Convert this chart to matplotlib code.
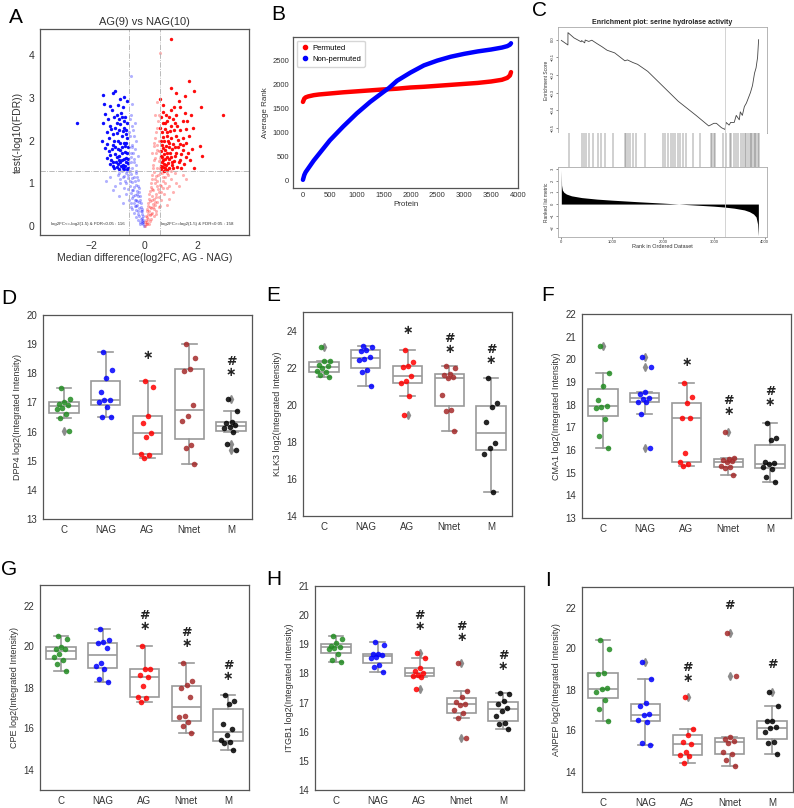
import matplotlib
matplotlib.use('Agg')
import matplotlib.pyplot as plt
from matplotlib.lines import Line2D
import numpy as np

plt.rcParams['font.family'] = ['Liberation Sans', 'DejaVu Sans']

W, H = 794, 808

# ---------------- data ----------------
# A: volcano plot, AG vs NAG  (x = median log2FC, y = -log10 FDR)
sig_down = [(-2.54, 2.41), (-1.55, 3.06), (-1.11, 3.16), (-1.17, 3.10), (-0.77, 3.02), (-0.92, 2.96),
            (-1.53, 2.85), (-1.30, 2.80), (-0.67, 2.92), (-1.05, 2.60), (-0.73, 2.55), (-1.55, 2.41),
            (-1.30, 2.35), (-1.11, 2.30), (-0.92, 2.38), (-1.43, 2.20), (-1.17, 2.15), (-0.86, 2.10),
            (-0.67, 2.05), (-1.43, 1.93), (-1.11, 1.85), (-0.92, 1.78), (-0.73, 1.74), (-1.30, 1.66),
            (-1.05, 1.62), (-0.86, 1.55), (-0.70, 1.60), (-1.17, 1.50), (-0.98, 1.45), (-0.80, 1.42),
            (-0.61, 1.48), (-1.05, 1.38), (-0.80, 1.35), (-0.66, 1.33), (-1.20, 1.40), (-0.95, 2.25),
            (-0.75, 2.45), (-0.88, 2.65), (-1.00, 2.00), (-0.70, 2.25), (-0.62, 1.85), (-1.35, 1.75),
            (-0.78, 1.95), (-0.90, 1.50), (-0.65, 2.40), (-1.25, 1.55), (-0.83, 1.72), (-0.72, 1.40),
            (-1.48, 2.62), (-1.22, 2.72), (-0.98, 2.82), (-0.82, 2.78), (-1.38, 2.50), (-1.15, 2.55),
            (-0.95, 2.50), (-0.78, 2.30), (-1.25, 2.28), (-1.02, 2.18), (-0.82, 2.22), (-0.68, 2.15),
            (-1.32, 2.05), (-1.15, 1.98), (-0.90, 1.95), (-0.74, 1.88), (-1.50, 1.82), (-1.22, 1.80),
            (-1.00, 1.80), (-0.85, 1.85), (-0.66, 1.70), (-1.40, 1.60), (-1.12, 1.68), (-0.95, 1.65),
            (-0.78, 1.58), (-0.63, 1.58), (-1.30, 1.45), (-1.08, 1.50), (-0.88, 1.40), (-0.70, 1.50),
            (-1.15, 1.35), (-0.95, 1.34), (-0.75, 1.33), (-0.62, 1.36), (-1.60, 2.00), (-1.05, 2.42),
            (-0.85, 2.55), (-1.20, 1.90), (-0.70, 1.95), (-0.96, 1.55)]
sig_up = [(1.01, 4.37), (1.70, 3.39), (1.00, 3.22), (1.89, 3.16), (1.22, 3.12), (1.55, 3.05), (0.60, 2.98),
          (1.30, 2.92), (2.15, 2.79), (1.35, 2.79), (1.00, 2.71), (2.97, 2.59), (0.72, 2.66), (1.79, 2.60),
          (1.10, 2.50), (1.45, 2.45), (0.78, 2.40), (1.03, 2.33), (1.35, 2.25), (1.60, 2.28), (2.10, 1.88),
          (2.17, 1.63), (1.89, 1.36), (0.72, 2.08), (0.90, 2.00), (1.10, 1.93), (1.28, 1.85), (1.47, 1.78),
          (1.66, 1.70), (0.78, 1.78), (0.97, 1.70), (1.16, 1.63), (1.35, 1.55), (0.72, 1.55), (0.90, 1.48),
          (1.05, 1.42), (1.25, 1.38), (0.65, 1.40), (0.80, 1.35), (1.50, 1.45), (1.75, 1.55), (0.68, 1.90),
          (0.85, 2.20), (1.20, 2.10), (1.45, 2.05), (0.95, 2.55), (1.60, 1.95), (0.62, 1.65), (1.30, 1.50),
          (0.75, 1.45), (1.05, 1.80), (1.85, 2.30), (0.88, 1.62), (1.15, 2.40),
          (0.63, 1.33), (0.70, 1.38), (0.83, 1.42), (0.95, 1.36), (1.10, 1.35), (0.66, 1.50), (0.78, 1.58),
          (0.95, 1.56), (1.12, 1.52), (1.40, 1.35), (0.64, 1.75), (0.75, 1.68), (0.85, 1.72), (1.00, 1.62),
          (1.20, 1.72), (1.38, 1.68), (0.70, 1.82), (0.82, 1.88), (0.95, 1.85), (1.15, 1.84), (1.35, 1.92),
          (0.62, 2.00), (0.76, 2.00), (0.88, 2.10), (1.02, 2.05), (1.28, 2.02), (0.66, 2.20), (0.80, 2.28),
          (0.98, 2.22), (1.12, 2.25), (0.70, 2.40), (0.88, 2.45), (1.25, 2.35), (0.65, 2.55), (0.82, 2.60),
          (1.20, 2.60), (0.70, 2.82), (1.12, 2.78), (1.55, 2.65), (1.70, 2.10), (1.58, 1.62), (1.80, 1.80),
          (0.68, 1.62), (0.60, 2.30), (0.92, 1.95), (1.05, 1.50), (0.73, 1.30), (0.88, 1.32), (1.45, 1.90),
          (1.62, 2.45)]
ns_down = [(-0.02, 0.02), (-0.05, 0.05), (-0.08, 0.08), (-0.10, 0.12), (-0.04, 0.15), (-0.12, 0.18),
           (-0.15, 0.10), (-0.07, 0.20), (-0.18, 0.25), (-0.10, 0.28), (-0.25, 0.30), (-0.14, 0.35),
           (-0.30, 0.38), (-0.20, 0.42), (-0.12, 0.45), (-0.35, 0.48), (-0.27, 0.50), (-0.40, 0.55),
           (-0.18, 0.58), (-0.30, 0.62), (-0.45, 0.66), (-0.22, 0.70), (-0.36, 0.74), (-0.50, 0.78),
           (-0.28, 0.82), (-0.42, 0.86), (-0.60, 0.88), (-0.20, 0.90), (-0.55, 0.94), (-0.33, 0.97),
           (-0.68, 1.00), (-0.45, 1.04), (-0.25, 1.08), (-0.60, 1.12), (-0.38, 1.15), (-0.75, 1.18),
           (-0.50, 1.22), (-0.30, 1.25), (-0.85, 1.28), (-0.65, 1.30), (-0.45, 1.35), (-0.30, 1.42),
           (-0.52, 1.50), (-0.40, 1.58), (-0.25, 1.65), (-0.50, 1.72), (-0.35, 1.80), (-0.45, 1.90),
           (-0.30, 2.00), (-0.55, 2.10), (-0.42, 2.25), (-0.50, 2.60), (-0.35, 2.40), (-0.45, 2.85),
           (-0.52, 3.50), (-1.45, 1.05), (-1.10, 0.95), (-0.95, 0.70), (-1.20, 0.85), (-0.80, 0.55),
           (-1.00, 1.20), (-0.90, 1.10), (-1.30, 1.15), (-0.16, 0.05), (-0.22, 0.16), (-0.33, 0.22),
           (-0.08, 0.35), (-0.40, 0.32), (-0.26, 0.60), (-0.52, 0.45), (-0.15, 0.70), (-0.40, 0.92),
           (-0.03, 0.10), (-0.06, 0.25), (-0.09, 0.40), (-0.12, 0.55), (-0.15, 0.62), (-0.20, 0.80),
           (-0.24, 0.95), (-0.28, 1.15), (-0.32, 1.30), (-0.38, 1.50), (-0.42, 1.70), (-0.48, 1.85),
           (-0.22, 0.35), (-0.30, 0.48), (-0.36, 0.62), (-0.42, 0.72), (-0.48, 0.85), (-0.55, 1.05),
           (-0.62, 1.20), (-0.70, 1.25), (-0.35, 1.05), (-0.48, 1.12), (-0.55, 1.30), (-0.60, 1.45),
           (-0.52, 1.62), (-0.58, 1.85), (-0.38, 2.10), (-0.48, 2.35), (-0.55, 2.50), (-0.58, 2.20),
           (-0.75, 0.90), (-0.68, 0.75), (-0.58, 0.62), (-0.50, 0.55), (-0.45, 0.40), (-0.90, 1.00),
           (-0.72, 1.05), (-0.80, 1.15), (-0.95, 1.25), (-0.26, 0.75)]
ns_up = [(0.02, 0.02), (0.05, 0.06), (0.09, 0.10), (0.12, 0.05), (0.06, 0.15), (0.15, 0.18), (0.20, 0.12),
         (0.10, 0.22), (0.22, 0.26), (0.13, 0.30), (0.30, 0.32), (0.18, 0.37), (0.36, 0.40), (0.25, 0.44),
         (0.15, 0.48), (0.42, 0.50), (0.32, 0.53), (0.50, 0.57), (0.22, 0.60), (0.38, 0.64), (0.55, 0.68),
         (0.28, 0.72), (0.45, 0.76), (0.62, 0.80), (0.34, 0.84), (0.52, 0.88), (0.72, 0.90), (0.25, 0.93),
         (0.60, 0.96), (0.40, 1.00), (0.80, 1.02), (0.50, 1.06), (0.30, 1.10), (0.70, 1.14), (0.45, 1.17),
         (0.90, 1.20), (0.58, 1.24), (0.36, 1.27), (1.00, 1.28), (0.75, 1.30), (0.50, 1.36), (0.35, 1.44),
         (0.55, 1.52), (0.42, 1.60), (0.30, 1.70), (0.50, 1.78), (0.38, 1.88), (0.55, 1.98), (0.45, 2.20),
         (0.52, 2.45), (0.40, 2.60), (0.48, 2.90), (0.59, 4.05), (1.20, 1.00), (1.45, 1.20), (1.10, 0.80),
         (0.95, 0.65), (1.30, 0.95), (0.85, 0.50), (1.60, 1.10), (1.15, 1.25), (0.18, 0.05), (0.26, 0.18),
         (0.38, 0.24), (0.10, 0.40), (0.46, 0.36), (0.30, 0.62), (0.60, 0.48), (0.18, 0.75), (0.48, 0.95),
         (0.03, 0.10), (0.07, 0.25), (0.10, 0.35), (0.14, 0.55), (0.18, 0.65), (0.22, 0.82), (0.26, 1.00),
         (0.30, 1.20), (0.34, 1.35), (0.38, 1.55), (0.45, 1.70), (0.50, 1.90), (0.25, 0.30), (0.32, 0.45),
         (0.40, 0.58), (0.46, 0.68), (0.55, 0.80), (0.62, 0.95), (0.70, 1.05), (0.80, 1.15), (0.40, 1.10),
         (0.52, 1.20), (0.60, 1.35), (0.58, 1.60), (0.55, 1.75), (0.42, 2.05), (0.50, 2.30), (0.56, 2.60),
         (0.36, 1.95), (0.85, 0.90), (0.75, 0.75), (0.65, 0.62), (0.55, 0.45), (0.45, 0.30), (1.00, 1.10),
         (0.88, 1.25), (0.95, 0.95), (0.68, 1.25), (0.30, 0.88), (0.20, 0.45)]

# B: average rank per protein
prot_idx = [0, 25, 50, 100, 200, 300, 500, 750, 1000, 1250, 1500, 1600, 1750, 2000, 2250,
            2500, 2750, 3000, 3250, 3500, 3700, 3800, 3850, 3870]
rank_permuted = [1640, 1710, 1735, 1755, 1780, 1795, 1815, 1840, 1860, 1880, 1900, 1905, 1915,
                 1940, 1955, 1975, 1995, 2015, 2035, 2065, 2100, 2140, 2190, 2260]
rank_nonperm = [20, 120, 180, 260, 420, 560, 840, 1130, 1400, 1640, 1850, 1930, 2080, 2250, 2400,
                2500, 2580, 2640, 2690, 2730, 2770, 2800, 2830, 2860]

# C: GSEA, serine hydrolase activity
es_rank = [0, 130, 131, 250, 390, 400, 460, 470, 540, 600, 700, 800, 900, 1050, 1250, 1300, 1410,
           1500, 1700, 2000, 2300, 2650, 2900, 3000, 3050, 3150, 3220, 3240, 3300, 3330, 3400, 3440,
           3500, 3520, 3560, 3600, 3640, 3680, 3720, 3760, 3800, 3830, 3860, 3880]
es_score = [-0.004, -0.03, 0.04, 0.01, -0.012, -0.005, -0.018, -0.002, -0.01, -0.003, -0.022, -0.04,
            -0.06, -0.075, -0.12, -0.115, -0.13, -0.14, -0.18, -0.265, -0.35, -0.43, -0.49, -0.475,
            -0.475, -0.50, -0.51, -0.47, -0.485, -0.47, -0.47, -0.43, -0.455, -0.41, -0.43, -0.38,
            -0.36, -0.33, -0.30, -0.26, -0.19, -0.16, -0.10, 0.0]
hit_ranks = [145, 415, 445, 490, 545, 620, 720, 785, 850, 1025, 1245, 1280, 1310, 1345, 1410, 1475,
             1640, 2000, 2030, 2100, 2165, 2200, 2245, 2295, 2330, 2395, 2460, 2590, 2720, 2950,
             2970, 2995, 3015, 3180, 3245, 3310, 3345, 3390, 3440, 3475, 3525, 3570, 3605, 3640,
             3670, 3705, 3735, 3755, 3780, 3805, 3835, 3860, 3885]
metric_rank = [0, 5, 20, 50, 100, 200, 400, 700, 1000, 1500, 2000, 2500, 3000, 3200, 3400, 3600,
               3700, 3780, 3830, 3860, 3870, 3875]
metric_val = [2.9, 1.6, 1.2, 1.0, 0.85, 0.7, 0.55, 0.42, 0.33, 0.2, 0.08, -0.05, -0.18, -0.25, -0.35,
              -0.5, -0.65, -0.85, -1.1, -1.7, -2.4, -2.7]
es_peak_rank = 3220

# D-I: log2(integrated intensity) per group
groups = ['C', 'NAG', 'AG', 'Nmet', 'M']
group_colors = ['forestgreen', 'blue', 'red', 'brown', 'black']

dpp4 = [[17.49, 17.12, 17.03, 16.95, 16.92, 16.82, 16.76, 16.60, 16.45, 16.03],
        [18.74, 18.12, 17.85, 17.35, 17.10, 17.07, 17.00, 16.86, 16.50, 16.50],
        [17.75, 17.52, 16.55, 16.29, 15.95, 15.83, 15.24, 15.18, 15.11],
        [19.00, 18.54, 18.16, 18.08, 16.91, 16.55, 16.35, 15.54, 15.42, 14.90],
        [17.12, 16.70, 16.32, 16.30, 16.24, 16.16, 16.12, 16.00, 15.58, 15.38]]
klk3 = [[23.10, 22.38, 22.34, 22.16, 22.07, 21.98, 21.80, 21.77, 21.60, 21.50],
        [23.15, 23.10, 22.97, 22.88, 22.56, 22.49, 22.41, 21.86, 21.75, 20.99],
        [22.94, 22.32, 22.07, 22.04, 21.55, 21.26, 21.17, 20.49, 19.42],
        [22.07, 22.00, 21.66, 21.60, 21.48, 21.44, 20.50, 19.73, 19.64, 18.56],
        [21.44, 20.10, 19.87, 19.05, 17.93, 17.66, 17.33, 15.28]]
cma1 = [[20.60, 19.39, 18.84, 18.21, 17.95, 17.89, 17.84, 17.37, 16.63, 16.08],
        [20.12, 19.68, 18.55, 18.48, 18.30, 18.26, 18.12, 18.10, 17.58, 16.08],
        [18.95, 18.33, 18.09, 17.43, 17.40, 15.86, 15.45, 15.40, 15.30],
        [16.79, 15.64, 15.62, 15.58, 15.50, 15.45, 15.30, 15.25, 15.20, 14.88],
        [17.18, 16.52, 16.45, 15.46, 15.42, 15.38, 15.27, 15.16, 14.79, 14.58]]
cpe = [[20.50, 20.35, 19.98, 19.90, 19.87, 19.65, 19.48, 19.35, 19.15, 18.80],
       [20.85, 20.30, 20.20, 20.15, 19.95, 19.20, 19.05, 18.90, 18.42, 18.25],
       [20.03, 18.92, 18.92, 18.59, 18.51, 18.07, 17.54, 17.49, 17.30],
       [19.21, 18.31, 18.11, 17.98, 17.52, 16.59, 16.54, 16.30, 16.10, 15.77],
       [17.61, 17.33, 17.21, 16.23, 15.98, 15.69, 15.44, 15.36, 15.28, 14.95]]
itgb1 = [[19.30, 19.18, 19.03, 18.95, 18.92, 18.88, 18.84, 18.65, 18.47, 18.40],
         [19.09, 18.97, 18.68, 18.65, 18.62, 18.58, 18.52, 18.30, 18.22, 18.06],
         [18.69, 18.54, 18.20, 18.10, 18.00, 17.95, 17.92, 17.88, 17.45],
         [18.37, 17.41, 17.18, 17.03, 16.95, 16.92, 16.74, 16.63, 16.48, 15.77],
         [17.34, 17.28, 17.05, 16.94, 16.82, 16.71, 16.55, 16.29, 16.25, 16.09]]
anpep = [[20.41, 20.00, 18.80, 18.75, 18.07, 18.02, 17.89, 17.50, 17.04, 16.44],
         [19.32, 18.50, 17.32, 17.20, 16.80, 16.76, 16.50, 16.42, 15.41, 15.30],
         [17.61, 16.07, 15.79, 15.46, 15.33, 14.96, 14.80, 14.76, 14.41],
         [20.75, 18.67, 15.66, 15.58, 15.50, 15.41, 14.93, 14.85, 14.57, 14.28],
         [17.90, 17.20, 16.47, 16.47, 16.15, 16.10, 15.95, 15.46, 15.37, 14.85]]

# significance marks: (group index, symbols, centre height)
dpp4_marks = [(2, '*', 18.6), (4, '#*', 18.2)]
klk3_marks = [(2, '*', 24.0), (3, '#*', 23.3), (4, '#*', 22.7)]
cma1_marks = [(2, '*', 19.87), (3, '#*', 17.92), (4, '#*', 18.36)]
cpe_marks = [(2, '#*', 21.22), (3, '#*', 20.4), (4, '#*', 18.8)]
itgb1_marks = [(2, '#*', 19.79), (3, '#*', 19.43), (4, '#*', 18.43)]
anpep_marks = [(2, '#*', 18.79), (3, '#', 22.1), (4, '#', 19.2)]

FRAME = '#555555'
TXT = '#333333'
BOXC = '#999999'


def px_axes(fig, l, t, r, b):
    return fig.add_axes([l / W, 1 - b / H, (r - l) / W, (b - t) / H])


def style_frame(ax, lw=0.9):
    for s in ax.spines.values():
        s.set_color(FRAME)
        s.set_linewidth(lw)


def box_panel(ax, data, ylabel, ylim, yticks, marks):
    ax.boxplot(data, positions=range(5), widths=0.7, patch_artist=True,
               boxprops=dict(facecolor='white', edgecolor=BOXC, linewidth=1.2),
               whiskerprops=dict(color=BOXC, linewidth=1.2),
               capprops=dict(color=BOXC, linewidth=1.2),
               medianprops=dict(color=BOXC, linewidth=1.2),
               flierprops=dict(marker='d', markerfacecolor='#8c8c8c', markeredgecolor='#8c8c8c',
                               markersize=4))
    for i, vals in enumerate(data):
        n = len(vals)
        off = ((np.arange(n) * 0.618 + 0.3) % 1 - 0.5) * 0.34
        ax.scatter(i + off, vals, s=16, color=group_colors[i], alpha=0.85, lw=0, zorder=3)
    for gi, syms, yv in marks:
        label = '\n'.join('\u2217' if c == '*' else c for c in syms)
        ax.text(gi, yv, label, ha='center', va='center', fontsize=9, fontweight='bold',
                linespacing=0.8, family=['DejaVu Sans'], color='#222222')
    ax.set_xlim(-0.5, 4.5)
    ax.set_ylim(*ylim)
    ax.set_yticks(yticks)
    ax.set_xticks(range(5))
    ax.set_xticklabels(groups)
    ax.tick_params(length=0, labelsize=7, colors=TXT, pad=4)
    ax.set_ylabel(ylabel, fontsize=6.5, color=TXT, labelpad=3)
    style_frame(ax)


fig = plt.figure(figsize=(W / 100, H / 100), dpi=100)

# ---------------- A ----------------
axA = px_axes(fig, 40, 29, 249, 235)
for pts, col, s, a in [(ns_down, 'blue', 5, 0.3), (ns_up, 'red', 5, 0.3),
                       (sig_down, 'blue', 6, 0.95), (sig_up, 'red', 6, 0.95)]:
    arr = np.array(pts)
    axA.scatter(arr[:, 0], arr[:, 1], s=s, color=col, alpha=a, lw=0)
fc_cut = np.log2(1.5)
for xv in (-fc_cut, fc_cut):
    axA.axvline(xv, color='#b0b0b0', ls='-.', lw=0.6)
axA.axhline(-np.log10(0.05), color='#b0b0b0', ls='-.', lw=0.6)
axA.text(-3.55, 0.04, 'log2FC<=-log2(1.5) & FDR<0.05 : 116', fontsize=3.2, color=TXT)
axA.text(0.62, 0.04, 'log2FC>=log2(1.5) & FDR<0.05 : 158', fontsize=3.2, color=TXT)
axA.set_xlim(-3.95, 3.97)
axA.set_ylim(-0.2, 4.6)
axA.set_xticks([-2, 0, 2])
axA.set_yticks([0, 1, 2, 3, 4])
axA.set_xticklabels(['\u22122', '0', '2'])
axA.tick_params(length=0, labelsize=7.5, colors=TXT, pad=4)
axA.set_xlabel('Median difference(log2FC, AG - NAG)', fontsize=7.5, color=TXT, labelpad=2)
axA.set_ylabel('test(-log10(FDR))', fontsize=7.5, color=TXT, labelpad=4)
axA.set_title('AG(9) vs NAG(10)', fontsize=8, color=TXT, pad=3)
style_frame(axA)

# ---------------- B ----------------
axB = px_axes(fig, 293, 37, 518, 188)
axB.plot(prot_idx, rank_permuted, color='red', lw=3.2, solid_capstyle='round')
axB.plot(prot_idx, rank_nonperm, color='blue', lw=3.2, solid_capstyle='round')
axB.set_xlim(-185, 3930)
axB.set_ylim(-150, 2990)
axB.set_xticks(range(0, 4001, 500))
axB.set_yticks(range(0, 2501, 500))
axB.tick_params(length=0, labelsize=5.5, colors=TXT, pad=3)
axB.set_xlabel('Protein', fontsize=5.8, color=TXT, labelpad=1)
axB.set_ylabel('Average Rank', fontsize=5.8, color=TXT, labelpad=2)
handles = [Line2D([], [], marker='o', ls='none', color='red', ms=3),
           Line2D([], [], marker='o', ls='none', color='blue', ms=3)]
axB.legend(handles, ['Permuted', 'Non-permuted'], loc='upper left', fontsize=5.5,
           handletextpad=0.3, borderpad=0.5, labelspacing=0.5, handlelength=1.2,
           edgecolor='#cccccc', fancybox=True)
style_frame(axB)

# ---------------- C ----------------
axC1 = px_axes(fig, 558, 27, 767, 133)
axC2 = px_axes(fig, 558, 133, 767, 167)
axC3 = px_axes(fig, 558, 167, 767, 237)
axC1.plot(es_rank, es_score, color='#444444', lw=0.6)
axC1.axvline(es_peak_rank, color='#cccccc', lw=0.6)
axC1.set_ylim(-0.53, 0.072)
axC1.set_yticks([0.0, -0.1, -0.2, -0.3, -0.4, -0.5])
axC1.set_xticks([])
axC1.set_ylabel('Enrichment Score', fontsize=3.5, color=TXT, labelpad=1)
axC1.set_title('Enrichment plot: serine hydrolase activity', fontsize=5, fontweight='bold',
               color='#222222', pad=2)
axC2.vlines(hit_ranks, 0, 1, color='#444444', lw=0.35)
axC2.axvline(es_peak_rank, color='#cccccc', lw=0.6)
axC2.set_ylim(0, 1)
axC2.set_xticks([])
axC2.set_yticks([])
for s in axC2.spines.values():
    s.set_visible(False)
axC3.fill_between(metric_rank, metric_val, 0, color='black', lw=0)
axC3.axvline(es_peak_rank, color='#cccccc', lw=0.6)
axC3.set_ylim(-2.8, 3.15)
axC3.set_yticks([-2, -1, 0, 1, 2, 3])
axC3.set_xticks([0, 1000, 2000, 3000, 4000])
axC3.set_ylabel('Ranked list metric', fontsize=3.5, color=TXT, labelpad=1)
axC3.set_xlabel('Rank in Ordered Dataset', fontsize=4, color=TXT, labelpad=0)
for ax in (axC1, axC2, axC3):
    ax.set_xlim(-65, 4045)
for ax in (axC1, axC3):
    ax.tick_params(length=1.5, width=0.4, labelsize=3, colors=TXT, pad=1)
    for lab in ax.get_yticklabels():
        lab.set_rotation(90)
        lab.set_va('center')
    for s in ax.spines.values():
        s.set_color('#aaaaaa')
        s.set_linewidth(0.6)

# ---------------- D-I ----------------
axD = px_axes(fig, 43, 315, 252, 519)
box_panel(axD, dpp4, 'DPP4 log2(Integrated Intensity)', (13, 20), range(13, 21), dpp4_marks)
axE = px_axes(fig, 303, 312, 512, 516)
box_panel(axE, klk3, 'KLK3 log2(Integrated Intensity)', (14, 25), range(14, 25, 2), klk3_marks)
axF = px_axes(fig, 582, 314, 791, 518)
box_panel(axF, cma1, 'CMA1 log2(Integrated Intensity)', (13, 22), range(13, 23), cma1_marks)
axG = px_axes(fig, 40, 585, 249, 790)
box_panel(axG, cpe, 'CPE log2(Integrated Intensity)', (13, 23), range(14, 23, 2), cpe_marks)
axH = px_axes(fig, 315, 586, 524, 790)
box_panel(axH, itgb1, 'ITGB1 log2(Integrated Intensity)', (14, 21), range(14, 22), itgb1_marks)
axI = px_axes(fig, 582, 587, 793, 792)
box_panel(axI, anpep, 'ANPEP log2(Integrated Intensity)', (13, 23), range(14, 23, 2), anpep_marks)

# panel letters
for letter, x, y in [('A', 9, 8), ('B', 271, 5), ('C', 532, 1), ('D', 1, 289), ('E', 266, 286),
                     ('F', 541, 286), ('G', 1, 560), ('H', 266, 570), ('I', 545, 571)]:
    fig.text(x / W, 1 - y / H, letter, fontsize=15, va='top', ha='left', color='black')

fig.savefig('out.png', dpi=100)
